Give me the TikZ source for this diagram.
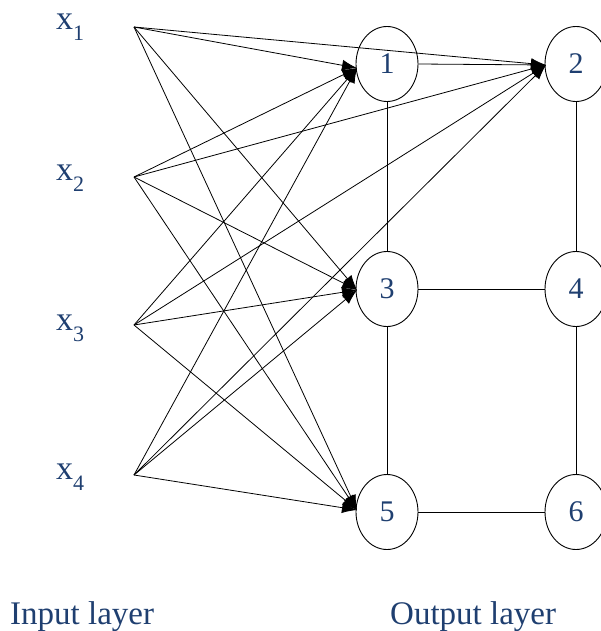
\documentclass[tikz,border=0pt]{standalone}
\usepackage{fontspec}
\setmainfont{Liberation Serif}
\usetikzlibrary{arrows.meta,shapes.geometric}
\definecolor{txtblue}{HTML}{1F3F70}
\begin{document}
\begin{tikzpicture}[x=1pt,y=-1pt,
  unit/.style={draw=black,line width=0.9pt,ellipse,minimum width=62pt,minimum height=75pt,inner sep=0pt,
    text=txtblue,font=\fontsize{30}{30}\selectfont},
  inlab/.style={anchor=base west,inner sep=0pt,text=txtblue,font=\fontsize{34}{34}\selectfont},
  caption/.style={anchor=base west,inner sep=0pt,text=txtblue,font=\fontsize{33}{33}\selectfont},
  wire/.style={draw=black,line width=0.8pt},
  arr/.style={wire,-{Latex[length=15pt,width=11pt]}}]
\useasboundingbox (0,0) rectangle (600,631);
% output units
\node[unit] (n1) at (387,64) {1};
\node[unit] (n2) at (576,64) {2};
\node[unit] (n3) at (387,289) {3};
\node[unit] (n4) at (576,289) {4};
\node[unit] (n5) at (387,512) {5};
\node[unit] (n6) at (576,512) {6};
% input labels
\newcommand{\xsub}[1]{x\raisebox{-11pt}{\fontsize{22}{22}\selectfont #1}}
\node[inlab] (l1) at (56,30) {\xsub{1}};
\node[inlab] (l2) at (56,180) {\xsub{2}};
\node[inlab] (l3) at (56,330) {\xsub{3}};
\node[inlab] (l4) at (56,479) {\xsub{4}};
% input points
\coordinate (s1) at (134,27);
\coordinate (s2) at (134,177);
\coordinate (s3) at (134,325);
\coordinate (s4) at (134,475);
% arrow targets
\coordinate (t1) at (357,68);
\coordinate (t2) at (546,65);
\coordinate (t3) at (357,290);
\coordinate (t5) at (357,510);
% connections
\foreach \s in {s1,s2,s3,s4}{
  \foreach \t in {t1,t2,t3,t5}{
    \draw[arr] (\s) -- (\t);
  }
}
\draw[arr] (n1.east) -- (t2);
% lattice
\draw[wire] (n1) -- (n3);
\draw[wire] (n3) -- (n5);
\draw[wire] (n2) -- (n4);
\draw[wire] (n4) -- (n6);
\draw[wire] (n3) -- (n4);
\draw[wire] (n5) -- (n6);
% captions
\node[caption] (c1) at (10,624) {Input layer};
\node[caption] (c2) at (390,624) {Output layer};
\end{tikzpicture}
\end{document}
